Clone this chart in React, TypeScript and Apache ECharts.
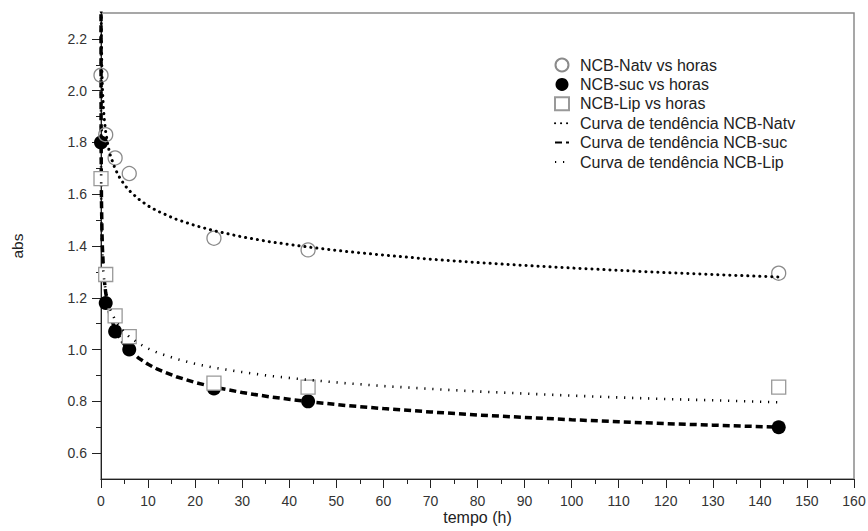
import React, { useEffect, useRef } from "react";
import * as echarts from "echarts";

// Measured points (hours vs absorbance)
const hours = [0, 1, 3, 6, 24, 44, 144];
const natv = [2.06, 1.83, 1.74, 1.68, 1.43, 1.385, 1.295];
const suc = [1.8, 1.18, 1.07, 1.0, 0.85, 0.8, 0.7];
const lip = [1.66, 1.29, 1.13, 1.05, 0.87, 0.855, 0.855];

// Trend curves
const trendX = [0.001, 0.005, 0.02, 0.05, 0.1, 0.2, 0.3, 0.5, 0.7, 1, 1.5, 2, 3, 4, 5, 6, 8, 10, 12, 16, 20, 24, 30, 36, 44, 52, 60, 70, 80, 90, 100, 110, 120, 130, 144];
const trendNatv = [3.047, 2.709, 2.448, 2.29, 2.177, 2.069, 2.009, 1.936, 1.889, 1.84, 1.786, 1.749, 1.698, 1.663, 1.636, 1.614, 1.581, 1.555, 1.535, 1.503, 1.479, 1.459, 1.435, 1.416, 1.396, 1.379, 1.365, 1.349, 1.336, 1.325, 1.315, 1.306, 1.297, 1.29, 1.28];
const trendSuc = [2.635, 2.202, 1.886, 1.703, 1.576, 1.459, 1.394, 1.317, 1.268, 1.219, 1.165, 1.128, 1.078, 1.044, 1.019, 0.998, 0.967, 0.943, 0.924, 0.895, 0.873, 0.855, 0.834, 0.817, 0.799, 0.784, 0.772, 0.759, 0.747, 0.738, 0.729, 0.721, 0.714, 0.708, 0.7];
const trendLip = [2.233, 1.942, 1.722, 1.59, 1.497, 1.41, 1.361, 1.302, 1.265, 1.226, 1.184, 1.154, 1.114, 1.087, 1.066, 1.049, 1.024, 1.004, 0.988, 0.964, 0.945, 0.93, 0.913, 0.898, 0.883, 0.87, 0.859, 0.848, 0.838, 0.83, 0.822, 0.815, 0.809, 0.804, 0.796];

// Axis ticks
const yMajorTicks = [0.6, 0.8, 1.0, 1.2, 1.4, 1.6, 1.8, 2.0, 2.2];
const yMinorTicks = [0.7, 0.9, 1.1, 1.3, 1.5, 1.7, 1.9, 2.1];

const names = [
  "NCB-Natv vs horas",
  "NCB-suc vs horas",
  "NCB-Lip vs horas",
  "Curva de tendência NCB-Natv",
  "Curva de tendência NCB-suc",
  "Curva de tendência NCB-Lip",
];

const FONT = "'Liberation Sans', Arial, Helvetica, sans-serif";

const zip = (xs: number[], ys: number[]) => xs.map((x, i) => [x, ys[i]]);

export default function App() {
  const ref = useRef<HTMLDivElement>(null);
  useEffect(() => {
    if (!ref.current) return;
    const chart = echarts.init(ref.current, undefined, { renderer: "svg" });
    const axisLine = { show: true, lineStyle: { color: "#222", width: 1 } };
    const noSymbol = { color: "rgba(0,0,0,0)", borderWidth: 0, opacity: 0 };
    chart.setOption({
      animation: false,
      textStyle: { fontFamily: FONT },
      grid: {
        left: 101,
        right: 14,
        top: 13,
        bottom: 52,
        containLabel: false,
        outerBoundsMode: "none",
        show: true,
        borderColor: "#8a8a8a",
        borderWidth: 1.5,
        backgroundColor: "transparent",
      },
      legend: {
        orient: "vertical",
        left: 554,
        top: 57,
        padding: 0,
        itemWidth: 14,
        itemHeight: 13,
        itemGap: 3.4,
        selectedMode: false,
        textStyle: { fontSize: 16, color: "#222", fontFamily: FONT, padding: [0, 0, 0, 6] },
        data: [
          { name: names[0], icon: "circle" },
          { name: names[1], icon: "circle" },
          { name: names[2], icon: "rect" },
          { name: names[3], itemStyle: noSymbol },
          { name: names[4], itemStyle: noSymbol },
          { name: names[5], itemStyle: noSymbol },
        ],
      },
      xAxis: {
        type: "value",
        min: 0,
        max: 160,
        interval: 10,
        name: "tempo (h)",
        nameLocation: "middle",
        nameGap: 30,
        nameMoveOverlap: false,
        nameTextStyle: { fontSize: 16, color: "#222", fontFamily: FONT },
        axisLine: { ...axisLine, onZero: false },
        axisTick: { show: true, length: 9, lineStyle: { color: "#222" } },
        minorTick: { show: true, splitNumber: 2, length: 5, lineStyle: { color: "#222" } },
        axisLabel: { fontSize: 14, color: "#333", margin: 15, fontFamily: FONT },
        splitLine: { show: false },
      },
      yAxis: [
        {
          type: "value",
          min: 0.5,
          max: 2.3,
          name: "abs",
          nameLocation: "middle",
          nameGap: 76,
          nameRotate: 90,
          nameMoveOverlap: false,
          nameTextStyle: { fontSize: 15.5, color: "#222", fontFamily: FONT },
          axisLine: { ...axisLine, onZero: false },
          axisTick: { show: true, length: 9, customValues: yMajorTicks, lineStyle: { color: "#222" } },
          axisLabel: {
            fontSize: 14,
            color: "#333",
            margin: 14,
            fontFamily: FONT,
            customValues: yMajorTicks,
            formatter: (v: number) => v.toFixed(1),
          },
          splitLine: { show: false },
        },
        {
          type: "value",
          min: 0.5,
          max: 2.3,
          position: "left",
          axisLine: { show: false },
          axisTick: { show: true, length: 5, customValues: yMinorTicks, lineStyle: { color: "#222" } },
          axisLabel: { show: false, customValues: yMinorTicks },
          splitLine: { show: false },
        },
      ],
      series: [
        {
          name: names[1],
          type: "scatter",
          symbol: "circle",
          symbolSize: 14,
          clip: false,
          itemStyle: { color: "#000", borderColor: "#000", borderWidth: 0, opacity: 1 },
          data: zip(hours, suc),
          z: 2,
        },
        {
          name: names[4],
          type: "line",
          symbol: "none",
          showSymbol: false,
          smooth: false,
          lineStyle: { color: "#000", width: 3.5, type: [7, 4] },
          itemStyle: { color: "#000" },
          data: zip(trendX, trendSuc),
          z: 3,
        },
        {
          name: names[2],
          type: "scatter",
          symbol: "rect",
          symbolSize: 14,
          clip: false,
          itemStyle: { color: "#fff", borderColor: "#999", borderWidth: 1.3, opacity: 1 },
          data: zip(hours, lip),
          z: 4,
        },
        {
          name: names[5],
          type: "line",
          symbol: "none",
          showSymbol: false,
          smooth: false,
          lineStyle: { color: "#000", width: 2.6, type: [1.2, 6.8] },
          itemStyle: { color: "#000" },
          data: zip(trendX, trendLip),
          z: 5,
        },
        {
          name: names[0],
          type: "scatter",
          symbol: "circle",
          symbolSize: 14,
          clip: false,
          itemStyle: { color: "rgba(255,255,255,0)", borderColor: "#8a8a8a", borderWidth: 1.3, opacity: 1 },
          data: zip(hours, natv),
          z: 6,
        },
        {
          name: names[3],
          type: "line",
          symbol: "none",
          showSymbol: false,
          smooth: false,
          lineStyle: { color: "#000", width: 3, type: [0.1, 5.9], cap: "round" },
          itemStyle: { color: "#000" },
          data: zip(trendX, trendNatv),
          z: 7,
        },
      ],
    });
    return () => chart.dispose();
  }, []);
  return (
    <div
      ref={ref}
      style={{ position: "fixed", left: 0, top: 0, width: 868, height: 531, background: "#fff" }}
    />
  );
}
